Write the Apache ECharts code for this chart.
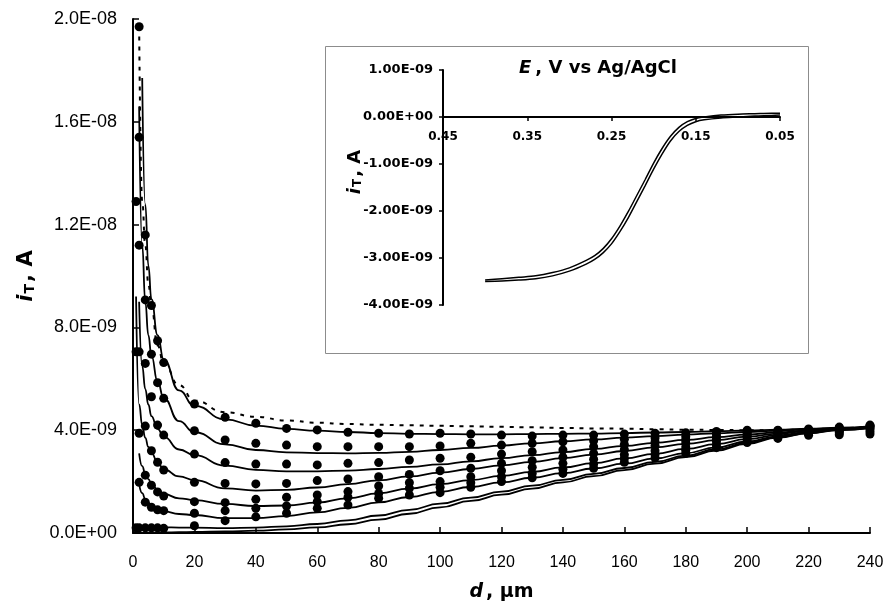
<!DOCTYPE html>
<html>
<head>
<meta charset="utf-8">
<script src="https://cdn.jsdelivr.net/npm/echarts@6/dist/echarts.min.js"></script>
<style>
html, body { margin: 0; padding: 0; background: #fff; }
#chart { width: 887px; height: 609px; }
</style>
</head>
<body>
<div id="chart"></div>
<script>
// Tip current i_T is stored in nA (1E-09 A); tick labels convert back to amperes.
const NANO = 1e-9;

// Measured approach curves: tip-substrate distance d (µm)
const DOT_D = [1, 2, 4, 6, 8, 10, 20, 30, 40, 50, 60, 70, 80, 90, 100, 110, 120, 130, 140, 150, 160, 170, 180, 190, 200, 210, 220, 230, 240];
const DOT_1 = [null, 19.7, 11.6, 8.85, 7.48, 6.63, 5.02, 4.50, 4.27, 4.07, 4.01, 3.92, 3.88, 3.85, 3.88, 3.85, 3.81, 3.77, 3.81, 3.81, 3.85, 3.88, 3.90, 3.95, 4.00, 4.00, 4.05, 4.12, 4.20];
const DOT_2 = [null, 15.4, 9.07, 6.96, 5.85, 5.24, 3.98, 3.62, 3.49, 3.42, 3.36, 3.36, 3.36, 3.36, 3.39, 3.49, 3.42, 3.49, 3.55, 3.59, 3.65, 3.70, 3.75, 3.85, 3.95, 3.98, 4.02, 4.10, 4.18];
const DOT_3 = [12.9, 11.2, 6.60, 5.30, 4.20, 3.81, 3.07, 2.74, 2.68, 2.68, 2.65, 2.71, 2.74, 2.84, 2.91, 2.95, 3.07, 3.16, 3.23, 3.36, 3.45, 3.55, 3.62, 3.75, 3.88, 3.93, 3.98, 4.05, 4.15];
const DOT_4 = [7.05, 7.05, 4.16, 3.20, 2.75, 2.45, 1.97, 1.93, 1.91, 1.93, 2.04, 2.10, 2.19, 2.28, 2.42, 2.52, 2.71, 2.81, 2.95, 3.10, 3.25, 3.40, 3.50, 3.65, 3.80, 3.88, 3.95, 4.00, 4.10];
const DOT_5 = [null, 3.88, 2.25, 1.86, 1.60, 1.44, 1.22, 1.18, 1.31, 1.39, 1.48, 1.61, 1.83, 1.96, 2.00, 2.19, 2.42, 2.56, 2.71, 2.87, 3.05, 3.20, 3.35, 3.55, 3.72, 3.82, 3.90, 3.95, 4.05];
const DOT_6 = [null, 1.97, 1.20, 1.00, 0.90, 0.87, 0.77, 0.87, 0.96, 1.05, 1.22, 1.39, 1.54, 1.74, 1.78, 1.96, 2.19, 2.32, 2.48, 2.68, 2.90, 3.05, 3.22, 3.42, 3.62, 3.75, 3.86, 3.90, 3.95];
const DOT_7 = [0.20, 0.20, 0.20, 0.20, 0.20, 0.18, 0.28, 0.48, 0.63, 0.77, 0.96, 1.09, 1.35, 1.48, 1.57, 1.78, 2.00, 2.15, 2.32, 2.52, 2.75, 2.92, 3.10, 3.32, 3.52, 3.68, 3.80, 3.82, 3.85];

// Fitted curves (solid) and the dotted limiting curve
const FIT_D = [1, 2, 3, 4, 5, 6, 8, 10, 15, 20, 30, 40, 50, 60, 70, 80, 90, 100, 110, 120, 130, 140, 150, 160, 170, 180, 190, 200, 210, 220, 230, 240];
const FIT_1 = [null, null, 17.7, 12.8, 10.4, 9.1, 7.7, 6.75, 5.55, 4.95, 4.42, 4.18, 4.05, 3.98, 3.93, 3.89, 3.86, 3.85, 3.84, 3.84, 3.85, 3.86, 3.87, 3.89, 3.91, 3.93, 3.96, 3.99, 4.02, 4.06, 4.10, 4.15];
const FIT_2 = [null, 16.6, 11.2, 9.0, 7.7, 6.9, 5.9, 5.25, 4.35, 3.92, 3.45, 3.23, 3.14, 3.11, 3.10, 3.12, 3.16, 3.23, 3.31, 3.40, 3.49, 3.57, 3.64, 3.71, 3.77, 3.83, 3.88, 3.93, 3.98, 4.03, 4.08, 4.14];
const FIT_3 = [null, 9.0, 6.5, 5.6, 5.0, 4.55, 4.05, 3.75, 3.25, 3.03, 2.62, 2.46, 2.40, 2.40, 2.43, 2.49, 2.57, 2.67, 2.79, 2.91, 3.03, 3.15, 3.27, 3.39, 3.51, 3.62, 3.73, 3.83, 3.92, 3.99, 4.06, 4.13];
const FIT_4 = [9.2, 5.0, 4.2, 3.7, 3.35, 3.12, 2.75, 2.48, 2.20, 2.06, 1.74, 1.65, 1.68, 1.77, 1.90, 2.05, 2.20, 2.35, 2.49, 2.63, 2.77, 2.91, 3.05, 3.19, 3.33, 3.47, 3.61, 3.75, 3.87, 3.97, 4.05, 4.12];
const FIT_5 = [null, 3.1, 2.6, 2.3, 2.1, 1.92, 1.68, 1.52, 1.35, 1.28, 1.13, 1.05, 1.07, 1.18, 1.35, 1.54, 1.73, 1.90, 2.06, 2.22, 2.38, 2.55, 2.72, 2.90, 3.08, 3.27, 3.46, 3.65, 3.81, 3.93, 4.03, 4.11];
const FIT_6 = [null, 1.9, 1.55, 1.32, 1.17, 1.06, 0.92, 0.84, 0.74, 0.70, 0.58, 0.58, 0.66, 0.80, 0.98, 1.19, 1.40, 1.60, 1.79, 1.97, 2.15, 2.33, 2.51, 2.70, 2.90, 3.11, 3.33, 3.56, 3.76, 3.91, 4.02, 4.10];
const FIT_7 = [0.30, 0.28, 0.26, 0.25, 0.24, 0.23, 0.22, 0.22, 0.21, 0.21, 0.19, 0.21, 0.26, 0.35, 0.49, 0.68, 0.90, 1.14, 1.38, 1.61, 1.84, 2.07, 2.30, 2.53, 2.77, 3.01, 3.26, 3.51, 3.73, 3.89, 4.01, 4.09];
const FIT_8 = [0.00, 0.00, 0.00, 0.01, 0.01, 0.01, 0.02, 0.02, 0.03, 0.04, 0.06, 0.09, 0.14, 0.22, 0.34, 0.52, 0.75, 1.00, 1.25, 1.49, 1.73, 1.97, 2.21, 2.45, 2.70, 2.95, 3.21, 3.47, 3.71, 3.88, 4.00, 4.08];
const LIMIT = [null, 19.7, 12.9, 11.2, 9.7, 8.8, 7.3, 6.6, 5.75, 5.15, 4.70, 4.52, 4.38, 4.29, 4.24, 4.21, 4.19, 4.17, 4.15, 4.13, 4.11, 4.09, 4.07, 4.06, 4.04, 4.02, 4.01, 4.00, 4.00, 4.03, 4.08, 4.14];

// Inset: steady-state voltammogram, E (V vs Ag/AgCl), two scan directions
const CV_E = [0.40, 0.38, 0.36, 0.34, 0.32, 0.30, 0.28, 0.27, 0.26, 0.25, 0.24, 0.23, 0.22, 0.21, 0.20, 0.19, 0.18, 0.17, 0.16, 0.15, 0.14, 0.12, 0.10, 0.08, 0.06, 0.05];
const CV_FWD = [-3.50, -3.49, -3.47, -3.44, -3.38, -3.28, -3.13, -3.03, -2.89, -2.70, -2.44, -2.14, -1.80, -1.46, -1.11, -0.79, -0.51, -0.31, -0.18, -0.10, -0.06, -0.02, 0.00, 0.02, 0.03, 0.04];
const CV_REV = [-3.47, -3.44, -3.41, -3.38, -3.31, -3.21, -3.05, -2.95, -2.80, -2.59, -2.32, -2.01, -1.67, -1.33, -0.98, -0.67, -0.41, -0.22, -0.10, -0.03, 0.00, 0.04, 0.06, 0.07, 0.08, 0.08];

const MAIN_X_TICKS = { min: 0, max: 240, step: 20 };
const MAIN_Y_TICKS = { min: 0, max: 20, step: 4 };
const INSET_X_TICKS = { min: 0.05, max: 0.45, step: 0.1 };
const INSET_Y_TICKS = { min: -4, max: 1, step: 1 };

// Inset plot box (pixels) and the offset that lifts its E axis onto i = 0
const INSET_TOP = 70, INSET_BOTTOM = 304;
const INSET_H = 609 - INSET_TOP - INSET_BOTTOM;
const INSET_ZERO_SHIFT = -INSET_H * (0 - INSET_Y_TICKS.min) / (INSET_Y_TICKS.max - INSET_Y_TICKS.min);

const REG = '"Liberation Sans", Arial, sans-serif';
const BOLD = '"DejaVu Sans", "Liberation Sans", sans-serif';

function sci(v, digits) {
  if (Math.abs(v) < 1e-30) return (0).toFixed(digits) + 'E+00';
  const e = Math.floor(Math.log10(Math.abs(v)) + 1e-9);
  const m = v / Math.pow(10, e);
  return m.toFixed(digits) + 'E' + (e < 0 ? '-' : '+') + String(Math.abs(e)).padStart(2, '0');
}

function pairs(xs, ys) {
  const out = [];
  xs.forEach((x, k) => { if (ys[k] !== null) out.push([x, ys[k]]); });
  return out;
}

const series = [];
[FIT_1, FIT_2, FIT_3, FIT_4, FIT_5, FIT_6, FIT_7, FIT_8].forEach((ys, k) => {
  series.push({
    name: 'fit' + (k + 1), type: 'line', xAxisIndex: 0, yAxisIndex: 0,
    data: pairs(FIT_D, ys), symbol: 'none', smooth: 0.5, smoothMonotone: 'x',
    lineStyle: { color: '#000', width: 1.8 }, z: 3
  });
});
series.push({
  name: 'limit', type: 'line', xAxisIndex: 0, yAxisIndex: 0,
  data: pairs(FIT_D, LIMIT), symbol: 'none', smooth: 0.5, smoothMonotone: 'x',
  lineStyle: { color: '#000', width: 2, type: [4, 6] }, z: 3
});
[DOT_1, DOT_2, DOT_3, DOT_4, DOT_5, DOT_6, DOT_7].forEach((ys, k) => {
  series.push({
    name: 'data' + (k + 1), type: 'scatter', xAxisIndex: 0, yAxisIndex: 0,
    data: pairs(DOT_D, ys), symbol: 'circle', symbolSize: 9,
    itemStyle: { color: '#000', opacity: 1 }, z: 4
  });
});
[CV_FWD, CV_REV].forEach((ys, k) => {
  series.push({
    name: 'cv' + (k + 1), type: 'line', xAxisIndex: 1, yAxisIndex: 1,
    data: pairs(CV_E, ys), symbol: 'none', smooth: 0.3,
    lineStyle: { color: '#000', width: 1.5 }, z: 5
  });
});

const chart = echarts.init(document.getElementById('chart'), null, { renderer: 'canvas' });

chart.setOption({
  animation: false,
  backgroundColor: '#fff',
  grid: [
    { left: 133, right: 17, top: 19, bottom: 76 },
    { left: 443, right: 107, top: INSET_TOP, bottom: INSET_BOTTOM }
  ],
  xAxis: [
    {
      type: 'value', gridIndex: 0,
      min: MAIN_X_TICKS.min, max: MAIN_X_TICKS.max, interval: MAIN_X_TICKS.step,
      name: '{d|d}{n|, μm}', nameLocation: 'middle', nameGap: 50,
      nameTextStyle: {
        rich: {
          d: { fontFamily: BOLD, fontSize: 19, fontWeight: 'bold', fontStyle: 'italic', color: '#000', padding: [0, 3, 0, 0] },
          n: { fontFamily: BOLD, fontSize: 19, fontWeight: 'bold', color: '#000' }
        }
      },
      axisLine: { show: true, onZero: false, lineStyle: { color: '#000', width: 2 } },
      axisTick: { show: true, inside: true, length: 6, lineStyle: { color: '#000', width: 1.5 } },
      axisLabel: { color: '#000', fontFamily: REG, fontSize: 16, margin: 22 },
      splitLine: { show: false }
    },
    {
      type: 'value', gridIndex: 1, inverse: true, position: 'bottom', offset: INSET_ZERO_SHIFT,
      min: INSET_X_TICKS.min, max: INSET_X_TICKS.max, interval: INSET_X_TICKS.step,
      axisLine: { show: true, onZero: false, lineStyle: { color: '#000', width: 2 } },
      axisTick: { show: true, inside: false, length: 4, lineStyle: { color: '#000', width: 1.5 } },
      axisLabel: { color: '#000', fontFamily: BOLD, fontWeight: 'bold', fontSize: 12, margin: 14,
                   formatter: v => v.toFixed(2), showMinLabel: true, showMaxLabel: true },
      splitLine: { show: false }
    }
  ],
  yAxis: [
    {
      type: 'value', gridIndex: 0,
      min: MAIN_Y_TICKS.min, max: MAIN_Y_TICKS.max, interval: MAIN_Y_TICKS.step,
      name: '{i|i}{s|T}{n|, A}', nameLocation: 'middle', nameGap: 96,
      nameTextStyle: {
        rich: {
          i: { fontFamily: BOLD, fontSize: 21, fontWeight: 'bold', fontStyle: 'italic', color: '#000', lineHeight: 26, verticalAlign: 'bottom' },
          s: { fontFamily: BOLD, fontSize: 14, fontWeight: 'bold', color: '#000', lineHeight: 14, verticalAlign: 'bottom', padding: [0, 2, 0, 1] },
          n: { fontFamily: BOLD, fontSize: 21, fontWeight: 'bold', color: '#000', lineHeight: 26, verticalAlign: 'bottom' }
        }
      },
      axisLine: { show: true, onZero: false, lineStyle: { color: '#000', width: 2 } },
      axisTick: { show: true, inside: true, length: 6, lineStyle: { color: '#000', width: 1.5 } },
      axisLabel: { color: '#000', fontFamily: REG, fontSize: 18, margin: 16, formatter: v => sci(v * NANO, 1) },
      splitLine: { show: false }
    },
    {
      type: 'value', gridIndex: 1,
      min: INSET_Y_TICKS.min, max: INSET_Y_TICKS.max, interval: INSET_Y_TICKS.step,
      axisLine: { show: true, onZero: false, lineStyle: { color: '#000', width: 2 } },
      axisTick: { show: true, inside: false, length: 4, lineStyle: { color: '#000', width: 1.5 } },
      axisLabel: { color: '#000', fontFamily: BOLD, fontWeight: 'bold', fontSize: 13, margin: 10, formatter: v => sci(v * NANO, 2) },
      splitLine: { show: false }
    }
  ],
  graphic: [
    {
      type: 'rect', z: 0, silent: true,
      shape: { x: 325.5, y: 46.5, width: 483, height: 307 },
      style: { fill: 'none', stroke: '#8c8c8c', lineWidth: 1 }
    },
    {
      type: 'text', z: 10, x: 598, y: 68, silent: true,
      style: {
        text: '{e|E}{n|, V vs Ag/AgCl}',
        align: 'center', verticalAlign: 'middle',
        rich: {
          e: { fontFamily: BOLD, fontSize: 18, fontWeight: 'bold', fontStyle: 'italic', fill: '#000', padding: [0, 4, 0, 0] },
          n: { fontFamily: BOLD, fontSize: 18, fontWeight: 'bold', fill: '#000' }
        }
      }
    },
    {
      type: 'text', z: 10, x: 353, y: 172, rotation: Math.PI / 2, silent: true,
      style: {
        text: '{i|i}{s|T}{n|, A}',
        align: 'center', verticalAlign: 'middle',
        rich: {
          i: { fontFamily: BOLD, fontSize: 18, fontWeight: 'bold', fontStyle: 'italic', fill: '#000', lineHeight: 22, verticalAlign: 'bottom' },
          s: { fontFamily: BOLD, fontSize: 12, fontWeight: 'bold', fill: '#000', lineHeight: 12, verticalAlign: 'bottom', padding: [0, 2, 0, 1] },
          n: { fontFamily: BOLD, fontSize: 18, fontWeight: 'bold', fill: '#000', lineHeight: 22, verticalAlign: 'bottom' }
        }
      }
    }
  ],
  series: series
});
</script>
</body>
</html>
